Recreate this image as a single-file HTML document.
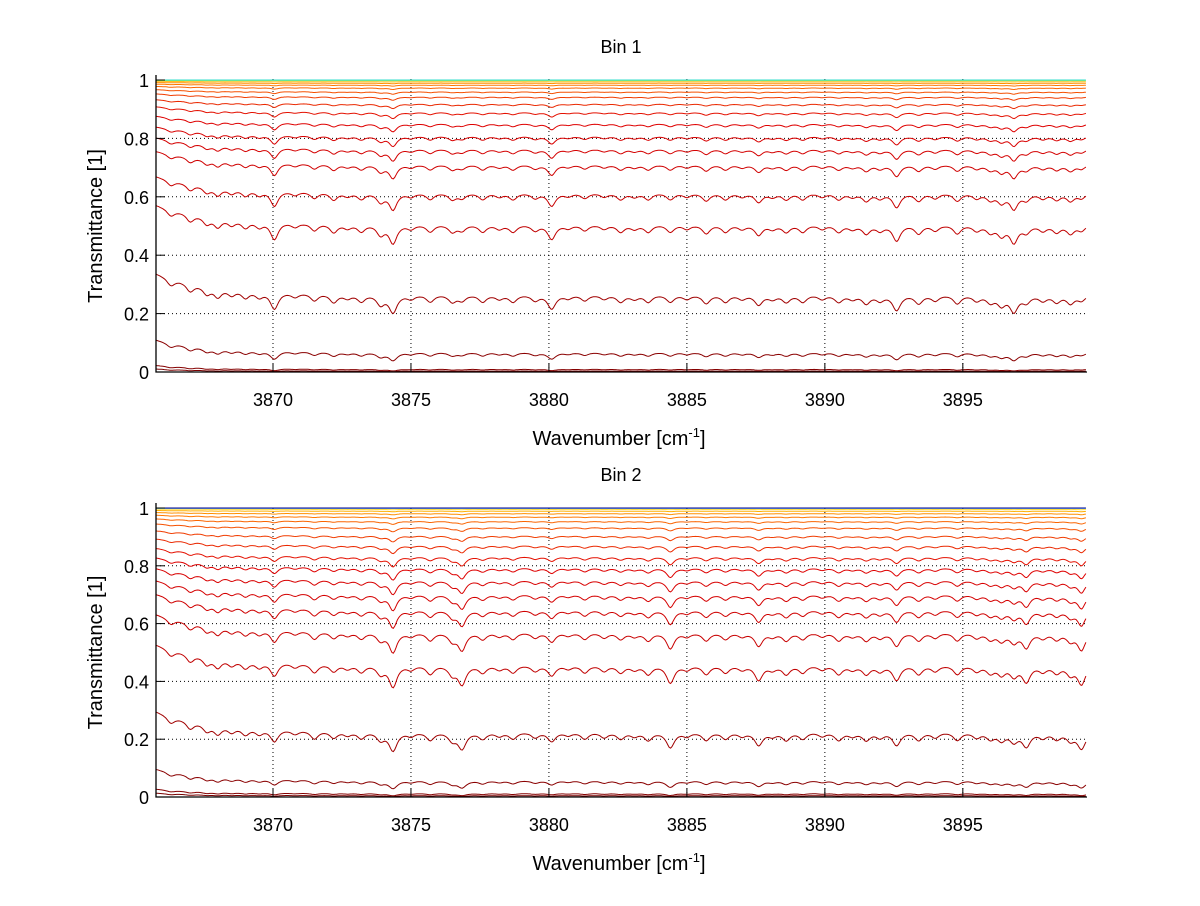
<!DOCTYPE html>
<html><head><meta charset="utf-8"><style>
body{margin:0;background:#fff;}
svg text{font-family:"Liberation Sans",sans-serif;fill:#000;}
</style></head><body>
<svg id="chart" width="1200" height="901" viewBox="0 0 1200 901" xmlns="http://www.w3.org/2000/svg">
<rect width="1200" height="901" fill="#fff"/>
<defs>
<clipPath id="c1"><rect x="156" y="70" width="931" height="303"/></clipPath>
<clipPath id="c2"><rect x="156" y="496" width="931" height="302"/></clipPath>
</defs>
<g id="p1"></g>
<g id="p2"></g>
</svg>
<script>
const xTicks=[3870,3875,3880,3885,3890,3895];
const yTicks=[0,0.2,0.4,0.6,0.8,1];
const yTickLabels=["0","0.2","0.4","0.6","0.8","1"];
const lineCenters=[3866.3,3867.0,3867.6,3868.0,3868.5,3869.0,3869.5,3870.05,3870.8,3871.5,3872.2,3872.7,3873.2,3873.9,3874.35,3875.0,3875.7,3876.5,3876.85,3877.6,3878.2,3878.7,3879.5,3880.1,3880.7,3881.3,3882.0,3882.6,3883.1,3883.6,3884.4,3885.0,3885.7,3886.4,3887.0,3887.6,3888.1,3888.6,3889.2,3889.9,3890.5,3891.0,3891.5,3892.0,3892.6,3893.4,3894.0,3894.8,3895.5,3896.0,3896.4,3896.85,3897.3,3897.9,3898.4,3898.9,3899.3];
const depthsBin1=[0.08,0.1,0.1,0.12,0.08,0.1,0.08,0.24,0.06,0.1,0.12,0.06,0.1,0.14,0.26,0.06,0.1,0.1,0.08,0.1,0.06,0.1,0.08,0.2,0.05,0.08,0.06,0.1,0.06,0.1,0.1,0.06,0.12,0.1,0.06,0.14,0.06,0.1,0.1,0.06,0.1,0.06,0.12,0.08,0.22,0.12,0.08,0.12,0.08,0.1,0.14,0.24,0.1,0.08,0.1,0.12,0.08];
const depthsBin2=[0.08,0.1,0.1,0.12,0.08,0.1,0.08,0.18,0.06,0.12,0.1,0.06,0.1,0.12,0.3,0.06,0.12,0.12,0.26,0.1,0.06,0.1,0.08,0.14,0.05,0.1,0.08,0.1,0.06,0.12,0.24,0.06,0.12,0.1,0.06,0.2,0.06,0.12,0.1,0.06,0.12,0.06,0.12,0.08,0.2,0.12,0.08,0.12,0.08,0.1,0.12,0.14,0.22,0.08,0.1,0.12,0.26];
const levelsBin1=[0.003,0.008,0.06,0.25,0.49,0.6,0.7,0.755,0.8,0.845,0.885,0.915,0.94,0.958,0.972,0.982,0.989,0.994,0.998,1.0];
const levelsBin2=[0.004,0.01,0.05,0.21,0.44,0.555,0.635,0.69,0.74,0.785,0.825,0.865,0.9,0.93,0.952,0.968,0.98,0.989,0.995,0.999,1.0];
const colorsBin1=["#7a0000","#850000","#8a0000","#a00000","#c00000","#c80000","#cf0000","#d40000","#d80000","#de0000","#e41000","#ea2800","#f03c00","#f55000","#fa6400","#ff7800","#ff9000","#ffc020","#99ee66","#33ddcc"];
const colorsBin2=["#7a0000","#850000","#8a0000","#a00000","#c00000","#c80000","#cf0000","#d40000","#d80000","#de0000","#e41000","#ea2800","#f03c00","#f55000","#fa6400","#ff7800","#ff9000","#ffb000","#ffe040","#0090ff","#00008f"];
const xMin=3865.76,xMax=3899.5;
const NS="http://www.w3.org/2000/svg";
const W=0.17,SCALE=0.75;
function X(v){return 156+(v-xMin)/(xMax-xMin)*931;}
function mk(tag,attrs,parent){const e=document.createElementNS(NS,tag);for(const k in attrs)e.setAttribute(k,attrs[k]);parent.appendChild(e);return e;}
function lineSum(x,depths){let t=0;for(let i=0;i<lineCenters.length;i++){const d=x-lineCenters[i];t+=SCALE*depths[i]*W*W/(d*d+W*W);}return t;}
function panel(g,top,bot,title,levels,colors,depths,clip,bn){
  const Y=v=>bot-v*(bot-top)/1.0;
  const grid=mk('g',{},g);
  xTicks.forEach(t=>{const l=mk('line',{x1:X(t),x2:X(t),y1:bot,y2:top-3,stroke:'#000','stroke-width':1,'stroke-dasharray':'1,3'},grid);});
  yTicks.forEach(t=>{const l=mk('line',{x1:156,x2:1087,y1:Y(t),y2:Y(t),stroke:'#000','stroke-width':1,'stroke-dasharray':'1,3'},grid);});
  const series=mk('g',{'clip-path':'url(#'+clip+')'},g);
  const xs=[];for(let x=xMin;x<=xMax+0.001;x+=0.05)xs.push(x);
  const sums=xs.map(x=>lineSum(x,depths));
  const sorted=sums.slice().sort((a,b)=>a-b);const base=sorted[Math.floor(sorted.length*0.3)];
  const taus=xs.map((x,j)=>1-0.17*Math.exp(-(x-xMin)/2.5)+sums[j]-base);
  levels.forEach((L,i)=>{const lnL=Math.log(L);
    const pts=xs.map((x,j)=>X(x).toFixed(1)+','+Y(Math.exp(lnL*taus[j])).toFixed(1)).join(' ');
    const p=mk('polyline',{points:pts,fill:'none',stroke:colors[i],'stroke-width':1},series);
    
    });
  const ax=mk('path',{d:`M156 ${top-5}V${bot}H1087`,fill:'none',stroke:'#000','stroke-width':1.3},g);
  
  xTicks.forEach(t=>{mk('line',{x1:X(t),x2:X(t),y1:bot,y2:bot-9,stroke:'#000'},g);
    const tx=mk('text',{x:X(t),y:bot+34,'font-size':18,'text-anchor':'middle'},g);tx.textContent=t;
    });
  yTicks.forEach((t,i)=>{mk('line',{x1:156,x2:165,y1:Y(t),y2:Y(t),stroke:'#000'},g);
    const tx=mk('text',{x:149,y:Y(t)+7,'font-size':18,'text-anchor':'end'},g);tx.textContent=yTickLabels[i];
    });
  const ti=mk('text',{x:621,y:top-27,'font-size':18,'text-anchor':'middle'},g);ti.textContent=title;
  
  const xl=mk('text',{x:619,y:bot+73,'font-size':20,'text-anchor':'middle'},g);
  xl.innerHTML='Wavenumber [cm<tspan dy="-8" font-size="13">-1</tspan><tspan dy="8">]</tspan>';
  
  const yl=mk('text',{x:0,y:0,'font-size':20,'text-anchor':'middle',transform:`translate(102 ${(top+bot)/2}) rotate(-90)`},g);yl.textContent='Transmittance [1]';
  
}
panel(document.getElementById('p1'),80,372,'Bin 1',levelsBin1,colorsBin1,depthsBin1,'c1','bin1');
panel(document.getElementById('p2'),508,797,'Bin 2',levelsBin2,colorsBin2,depthsBin2,'c2','bin2');
</script>
</body></html>
